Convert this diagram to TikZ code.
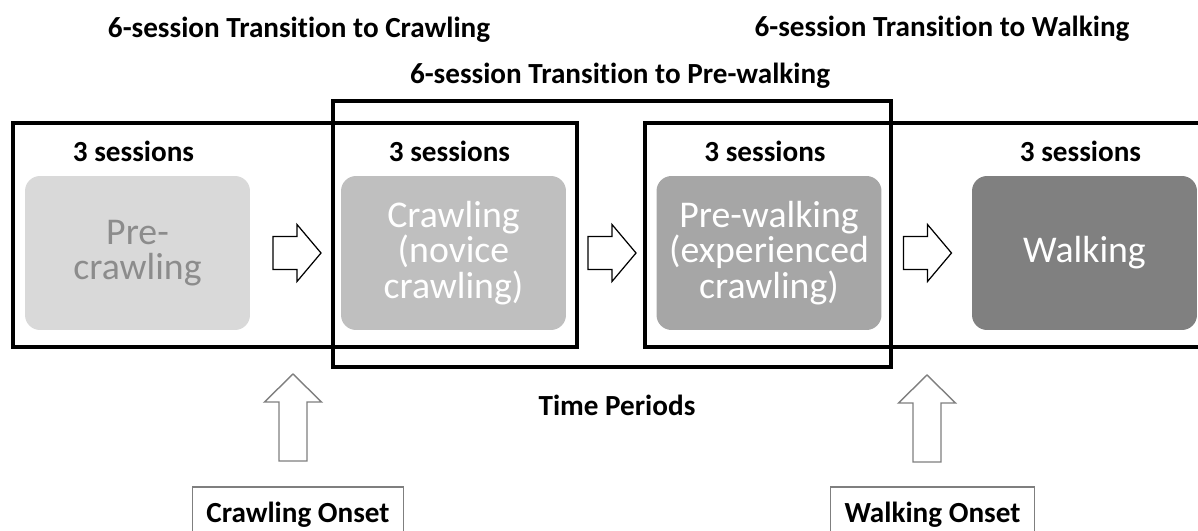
\documentclass[tikz,border=0pt]{standalone}
\usepackage{fontspec}
\setmainfont{Carlito}[Ligatures={NoCommon,NoRequired}]
\usetikzlibrary{positioning}
\definecolor{stageA}{HTML}{D9D9D9}
\definecolor{stageAtext}{HTML}{8C8C8C}
\definecolor{stageB}{HTML}{BFBFBF}
\definecolor{stageC}{HTML}{A6A6A6}
\definecolor{stageD}{HTML}{808080}
\definecolor{onsetgray}{HTML}{7F7F7F}

\begin{document}
\begin{tikzpicture}[x=0.02cm,y=-0.02cm,
	every node/.style={font=\fontsize{16.6}{19}\selectfont\bfseries},
	stage/.style={rectangle,rounded corners=0.3cm,minimum width=4.5cm,minimum height=3.08cm,
		inner sep=0pt,align=center,font=\fontsize{21.5}{20.2}\selectfont},
	period/.style={draw,line width=2.8pt,line join=miter},
	shiftarrow/.style={draw=black,line width=0.7pt,fill=white,line join=miter},
	onsetarrow/.style={draw=onsetgray,line width=0.8pt,fill=white,line join=miter},
	onset/.style={draw=onsetgray,line width=0.9pt,text height=0.44cm,text depth=0.1cm,
		inner ysep=0.26cm,inner xsep=0.28cm}]
		\clip (0,0) rectangle (1198,531);

		% transition windows
		\draw[period] (13,123) rectangle (577,347);
		\draw[period] (333,101) rectangle (891,367);
		\draw[period] (1210,123) -- (645,123) -- (645,347) -- (1210,347);

		% time periods
		\node[stage,fill=stageA,text=stageAtext] (precrawl) at (137.5,253) {Pre-\\crawling};
		\node[stage,fill=stageB,text=white] (crawl) at (453.5,253) {Crawling\\(novice\\crawling)};
		\node[stage,fill=stageC,text=white] (prewalk) at (769,253) {Pre-walking\\(experienced\\crawling)};
		\node[stage,fill=stageD,text=white] (walk) at (1084.5,253) {Walking};
		\foreach \s in {precrawl,crawl,prewalk,walk}
			\node[anchor=base] (sess-\s) at ([xshift=-0.08cm,yshift=0.28cm]\s.north) {3 sessions};

		% arrows between periods
		\coordinate (h1) at (297,253);
		\coordinate (h2) at (612,253);
		\coordinate (h3) at (927.5,253);
		\foreach \h in {h1,h2,h3}
			\draw[shiftarrow] (\h) ++(-24,-16.5) -- ++(24,0) -- ++(0,-12) -- ++(24,28.5)
				-- ++(-24,28.5) -- ++(0,-12) -- ++(-24,0) -- cycle;

		% titles
		\node[anchor=base] (ttcrawl) at (299,37) {6-session Transition to Crawling};
		\node[anchor=base] (ttprewalk) at (620,83) {6-session Transition to Pre-walking};
		\node[anchor=base] (ttwalk) at (942,36) {6-session Transition to Walking};
		\node[anchor=base] (tperiods) at (617,415) {Time Periods};

		% onsets
		\node[onset,anchor=base] (crawlon) at (298,522) {Crawling Onset};
		\node[onset,anchor=base] (walkon) at (932.5,522) {Walking Onset};
		\coordinate (v1) at (293,374);
		\coordinate (v2) at (927,375);
		\foreach \v in {v1,v2}
			\draw[onsetarrow] (\v) -- ++(28.5,28) -- ++(-14.5,0) -- ++(0,59) -- ++(-28,0)
				-- ++(0,-59) -- ++(-14.5,0) -- cycle;
	\end{tikzpicture}
\end{document}
